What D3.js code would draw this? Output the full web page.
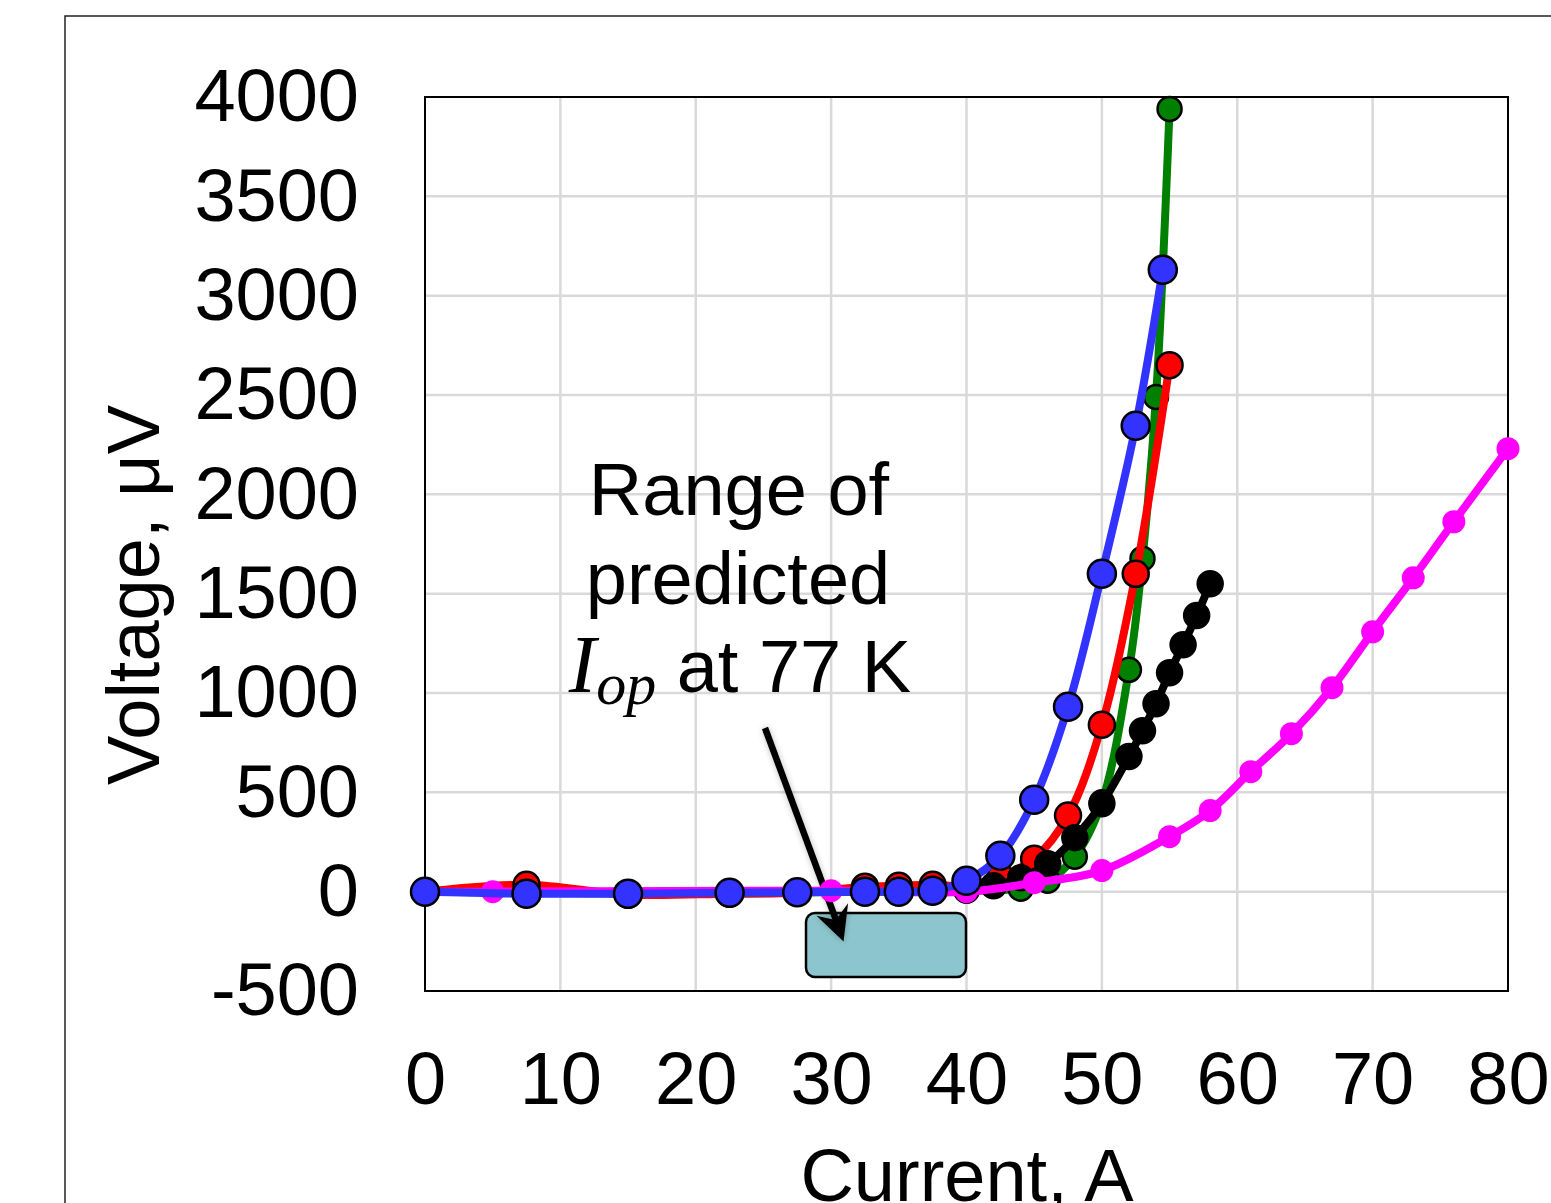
<!DOCTYPE html>
<html>
<head>
<meta charset="utf-8">
<script src="https://cdn.jsdelivr.net/npm/d3@7"></script>
<style>
  body { margin: 0; background: #fff; }
  svg { display: block; }
  .tick text { font-family: "Liberation Sans", Arial, sans-serif; font-size: 74px; fill: #000; }
</style>
</head>
<body>
<div class="chart"></div>
<script>
// tick labels
var xTicks = [0, 10, 20, 30, 40, 50, 60, 70, 80];
var yTicks = [-500, 0, 500, 1000, 1500, 2000, 2500, 3000, 3500, 4000];

// series values [current A, voltage uV]
var green = [[0, 0], [7.5, -5], [15, -10], [22.5, -10], [27.5, -5], [32.5, 0], [35, 0], [37.5, 0], [40, 5],
  [44, 15], [46, 55], [48, 176], [50, 450], [52, 1117], [53, 1676], [54, 2490], [55, 3940]];
var red = [[0, 0], [7.5, 35], [15, -15], [22.5, -10], [27.5, -5], [32.5, 25], [35, 30], [37.5, 35], [40, 30],
  [42.5, 75], [45, 166], [47.5, 383], [50, 840], [52.5, 1600], [55, 2650]];
var black = [[40, 10], [42, 30], [44, 70], [46, 141], [48, 272], [50, 443], [52, 680], [53, 810], [54, 946],
  [55, 1102], [56, 1243], [57, 1390], [58, 1550]];
var magenta = [[0, 0], [5, 0], [30, 5], [40, 0], [45, 45], [50, 106], [55, 277], [58, 408], [61, 604],
  [64, 795], [67, 1027], [70, 1308], [73, 1580], [76, 1862], [80, 2230]];
var blue = [[0, 0], [7.5, -10], [15, -10], [22.5, -5], [27.5, -3], [32.5, 0], [35, 0], [37.5, 5], [40, 55],
  [42.5, 181], [45, 463], [47.5, 931], [50, 1600], [52.5, 2345], [54.5, 3130]];

var series = [
  { data: green, color: '#008000', r: 12, stroke: '#000' },
  { data: red, color: '#ff0000', r: 13, stroke: '#000' },
  { data: black, color: '#000000', r: 12.5, stroke: '#000' },
  { data: magenta, color: '#ff00ff', r: 11.5, stroke: 'none' },
  { data: blue, color: '#3333ff', r: 14, stroke: '#000' }
];

var W = 1551, H = 1203;
var pLeft = 425, pRight = 1508, pTop = 97, pBottom = 991;

var svg = d3.select('.chart')
  .append('svg')
    .attr('width', W)
    .attr('height', H);

var x = d3.scaleLinear().domain([0, 80]).range([pLeft, pRight]);
var y = d3.scaleLinear().domain([-500, 4000]).range([pBottom, pTop]);

// outer frame (cut off at right and bottom)
svg.append('rect')
  .attr('x', 65).attr('y', 16)
  .attr('width', W).attr('height', H)
  .attr('fill', 'none').attr('stroke', '#222').attr('stroke-width', 1.5);

// grid
svg.append('g').selectAll('line')
  .data(xTicks.slice(1, -1))
  .enter().append('line')
    .attr('x1', d => x(d)).attr('x2', d => x(d))
    .attr('y1', pTop).attr('y2', pBottom)
    .attr('stroke', '#d9d9d9').attr('stroke-width', 2.5);
svg.append('g').selectAll('line')
  .data(yTicks.slice(1, -1))
  .enter().append('line')
    .attr('x1', pLeft).attr('x2', pRight)
    .attr('y1', d => y(d)).attr('y2', d => y(d))
    .attr('stroke', '#d9d9d9').attr('stroke-width', 2.5);

// axes labels
svg.append('g')
  .attr('transform', 'translate(' + (pLeft - 66) + ',0)')
  .call(d3.axisLeft(y).tickValues(yTicks).tickFormat(d => String(d)).tickSize(0).tickPadding(0))
  .call(g => g.select('.domain').remove());

svg.append('g')
  .attr('transform', 'translate(0,' + (pBottom + 60) + ')')
  .call(d3.axisBottom(x).tickValues(xTicks).tickSize(0).tickPadding(0))
  .call(g => g.select('.domain').remove());

svg.append('rect')
  .attr('x', pLeft).attr('y', pTop)
  .attr('width', pRight - pLeft).attr('height', pBottom - pTop)
  .attr('fill', 'none').attr('stroke', '#000').attr('stroke-width', 2);

// predicted range box
svg.append('rect')
  .attr('x', 806).attr('y', 913)
  .attr('width', 160).attr('height', 64)
  .attr('rx', 9)
  .attr('fill', '#8cc5cd').attr('stroke', '#000').attr('stroke-width', 2.5);

// arrow with a soft glow
var defs = svg.append('defs');
var glow = defs.append('filter').attr('id', 'glow')
  .attr('x', '-50%').attr('y', '-50%').attr('width', '200%').attr('height', '200%');
glow.append('feGaussianBlur').attr('in', 'SourceAlpha').attr('stdDeviation', 3).attr('result', 'b');
glow.append('feComponentTransfer').attr('in', 'b').attr('result', 'c')
  .append('feFuncA').attr('type', 'linear').attr('slope', 0.25);
var merge = glow.append('feMerge');
merge.append('feMergeNode').attr('in', 'c');
merge.append('feMergeNode').attr('in', 'SourceGraphic');

var arrow = svg.append('g').attr('filter', 'url(#glow)');
arrow.append('line')
  .attr('x1', 765).attr('y1', 728)
  .attr('x2', 836).attr('y2', 920)
  .attr('stroke', '#000').attr('stroke-width', 6.5);
arrow.append('path')
  .attr('d', 'M843,940 L819,917 L836,921 L847,906 Z')
  .attr('fill', '#000').attr('stroke', '#000').attr('stroke-width', 1.5)
  .attr('stroke-linejoin', 'miter');

// lines + markers
var line = d3.line()
  .x(d => x(d[0]))
  .y(d => y(d[1]))
  .curve(d3.curveCatmullRom.alpha(0.5));

series.forEach(function (s) {
  var g = svg.append('g');
  g.append('path')
    .attr('d', line(s.data))
    .attr('fill', 'none')
    .attr('stroke', s.color)
    .attr('stroke-width', 8);
  g.selectAll('circle')
    .data(s.data)
    .enter().append('circle')
      .attr('cx', d => x(d[0]))
      .attr('cy', d => y(d[1]))
      .attr('r', s.r)
      .attr('fill', s.color)
      .attr('stroke', s.stroke)
      .attr('stroke-width', 2.5);
});

// annotation text
var note = svg.append('g')
  .attr('font-family', '"Liberation Sans", Arial, sans-serif')
  .attr('font-size', 74)
  .attr('text-anchor', 'middle');
note.append('text').attr('x', 739).attr('y', 515).text('Range of');
note.append('text').attr('x', 738).attr('y', 604).text('predicted');
var t3 = note.append('text').attr('x', 740).attr('y', 692);
t3.append('tspan')
  .attr('font-family', '"Liberation Serif", "DejaVu Serif", serif')
  .attr('font-style', 'italic')
  .attr('font-size', 82)
  .text('I');
t3.append('tspan')
  .attr('font-family', '"Liberation Serif", "DejaVu Serif", serif')
  .attr('font-style', 'italic')
  .attr('font-size', 60)
  .attr('dy', 12)
  .text('op');
t3.append('tspan')
  .attr('dy', -12)
  .text('\u00a0at 77 K');

// axis titles
svg.append('text')
  .attr('x', 967).attr('y', 1201)
  .attr('text-anchor', 'middle')
  .attr('font-family', '"Liberation Sans", Arial, sans-serif')
  .attr('font-size', 74)
  .text('Current, A');

svg.append('text')
  .attr('transform', 'translate(159,595) rotate(-90)')
  .attr('text-anchor', 'middle')
  .attr('font-family', '"Liberation Sans", Arial, sans-serif')
  .attr('font-size', 74)
  .text('Voltage, \u03bcV');
</script>
</body>
</html>
